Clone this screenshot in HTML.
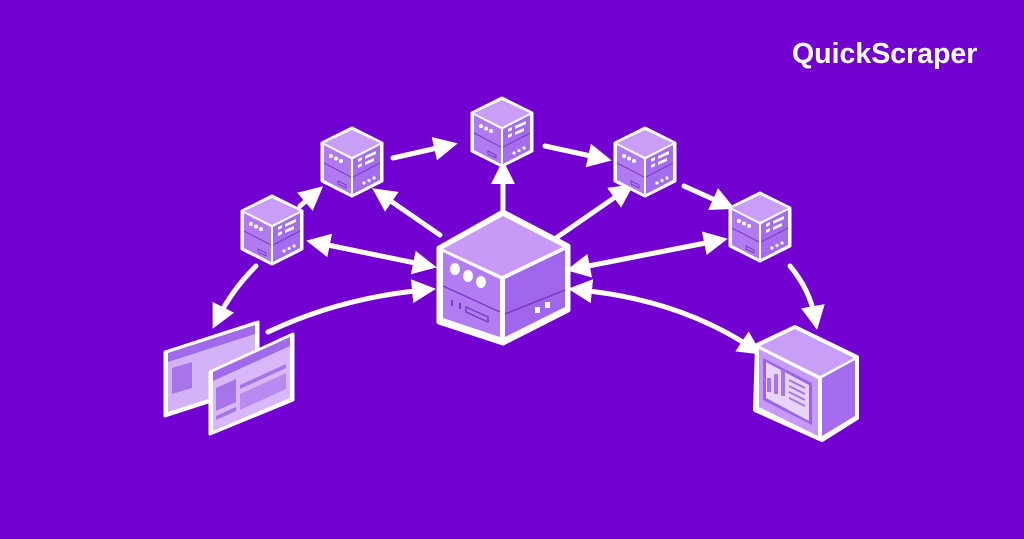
<!DOCTYPE html>
<html><head><meta charset="utf-8"><style>
html,body{margin:0;padding:0;background:#7200d0;}
svg{display:block}
</style></head><body>
<svg width="1024" height="539" viewBox="0 0 1024 539" xmlns="http://www.w3.org/2000/svg">
<defs>
<marker id="ah" viewBox="0 0 10 10" refX="5" refY="5" markerWidth="4.8" markerHeight="4.8" orient="auto-start-reverse">
<path d="M0,0 L10,5 L0,10 z" fill="#fff"/></marker>
<g id="cube">
<polygon points="0,-34 30,-19 30,19 0,34 -30,19 -30,-19" fill="#fff" stroke="#fff" stroke-width="3" stroke-linejoin="round"/>
<polygon points="0,-32 28,-19 0,-5 -28,-19" fill="#c99ef7"/>
<polygon points="-28,-17 -1,-3 -1,32 -28,18" fill="#b07af1"/>
<polygon points="1,-3 28,-17 28,18 1,32" fill="#a36ded"/>
<line x1="-28" y1="1" x2="-1" y2="15" stroke="#7a3cc9" stroke-width="1"/>
<line x1="1" y1="15" x2="28" y2="1" stroke="#7a3cc9" stroke-width="1"/>
<circle cx="-21" cy="-6" r="2" fill="#fff"/><circle cx="-16" cy="-3.5" r="2" fill="#fff"/><circle cx="-11" cy="-1" r="2" fill="#fff"/>
<polygon points="6,-3 10,-5 10,-2 6,0" fill="#fff"/><polygon points="13,-6 24,-11 24,-8 13,-3" fill="#fff"/>
<polygon points="6,3 10,1 10,4 6,6" fill="#fff"/><polygon points="13,0 22,-4 22,-1 13,3" fill="#fff"/>
<polygon points="-14,19 -6,23 -6,26 -14,22" fill="none" stroke="#7a3cc9" stroke-width="1"/>
<circle cx="12" cy="21" r="1.6" fill="#fff"/><circle cx="17" cy="18.5" r="1.6" fill="#fff"/><circle cx="22" cy="16" r="1.6" fill="#fff"/>
</g>
</defs>

<g stroke="#fff" stroke-width="5" fill="none" stroke-linecap="round">
<line x1="393" y1="158" x2="446" y2="146" marker-end="url(#ah)"/>
<line x1="545" y1="146" x2="600" y2="158" marker-end="url(#ah)"/>
<line x1="684" y1="186" x2="724" y2="204" marker-end="url(#ah)"/>
<line x1="300" y1="206" x2="314" y2="194" marker-end="url(#ah)"/>
<line x1="440" y1="235" x2="382" y2="195" marker-end="url(#ah)"/>
<line x1="503" y1="210" x2="503" y2="172" marker-end="url(#ah)"/>
<line x1="556" y1="238" x2="624" y2="191" marker-end="url(#ah)"/>
<line x1="318" y1="243" x2="425" y2="265" marker-start="url(#ah)" marker-end="url(#ah)"/>
<line x1="578" y1="268" x2="716" y2="241" marker-start="url(#ah)" marker-end="url(#ah)"/>
<path d="M256,266 Q232,290 218,318" marker-end="url(#ah)"/>
<path d="M268,332 Q340,298 424,290" marker-end="url(#ah)"/>
<path d="M580,290 Q680,300 752,348" marker-start="url(#ah)" marker-end="url(#ah)"/>
<path d="M790,266 Q810,290 815,318" marker-end="url(#ah)"/>
</g>

<use href="#cube" x="352" y="162"/>
<use href="#cube" x="502" y="132"/>
<use href="#cube" x="645" y="162"/>
<use href="#cube" x="272" y="230"/>
<use href="#cube" x="760" y="227"/>

<g>
<polygon points="503,212 568,246 568,310 503,343 439,322 439,248" fill="#fff" stroke="#fff" stroke-width="5" stroke-linejoin="round"/>
<polygon points="503,216 563,247 502,276 443,249" fill="#c79af7"/>
<polygon points="443,252 500,279 500,337 443,318" fill="#b27cf2"/>
<polygon points="505,279 565,250 565,307 505,337" fill="#a066ec"/>
<line x1="443" y1="286" x2="500" y2="312" stroke="#7a3cc9" stroke-width="1.5"/>
<line x1="505" y1="314" x2="565" y2="290" stroke="#7a3cc9" stroke-width="1.5"/>
<ellipse cx="455" cy="269" rx="5" ry="6" fill="#fff"/><ellipse cx="468" cy="276" rx="5" ry="6" fill="#fff"/><ellipse cx="481" cy="282" rx="5" ry="6" fill="#fff"/>
<polygon points="466,307 488,317 488,322 466,312" fill="none" stroke="#7a3cc9" stroke-width="1.5"/>
<rect x="451" y="300" width="2" height="6" fill="#7a3cc9"/><rect x="459" y="303" width="2" height="6" fill="#7a3cc9"/>
<rect x="535" y="307" width="5" height="6" fill="#fff"/><rect x="545" y="302" width="5" height="6" fill="#fff"/>
</g>

<g stroke-linejoin="round">
<polygon points="165,352 258,322 258,386 165,416" fill="#fff" stroke="#fff" stroke-width="3"/>
<polygon points="168,353 255,325 255,384 168,412" fill="#d4b2f8"/>
<polygon points="168,353 255,325 255,334 168,362" fill="#a16aea"/>
<polygon points="172,368 192,362 192,388 172,394" fill="#a774ec"/>
<polygon points="210,372 293,334 293,400 210,434" fill="#fff" stroke="#fff" stroke-width="3"/>
<polygon points="213,372 290,337 290,398 213,431" fill="#d8b8f9"/>
<polygon points="213,372 290,337 290,346 213,381" fill="#a16aea"/>
<polygon points="216,388 236,379 236,402 216,411" fill="#a774ec"/>
<polygon points="240,385 286,364 286,368 240,389" fill="#a774ec"/>
<polygon points="240,394 286,373 286,389 240,410" fill="#b98af0"/>
<polygon points="216,416 236,407 236,411 216,420" fill="#a774ec"/>
</g>

<g stroke-linejoin="round">
<polygon points="757,345 795,327 857,357 857,418 822,440 755,410" fill="#fff" stroke="#fff" stroke-width="4"/>
<polygon points="760,346 795,329 854,358 820,376" fill="#c99ef7"/>
<polygon points="759,349 818,379 818,436 759,407" fill="#c79af7"/>
<polygon points="822,378 855,360 855,416 822,436" fill="#a36ded"/>
<polygon points="763,358 812,383 812,425 763,400" fill="#9d62ea"/>
<polygon points="766,362 809,385 809,421 766,398" fill="#e6d4fb"/>
<rect x="767" y="378" width="4" height="14" fill="#a774ec"/><rect x="774" y="374" width="4" height="20" fill="#a774ec"/><rect x="781" y="370" width="4" height="26" fill="#a774ec"/>
<g stroke="#a774ec" stroke-width="2"><line x1="789" y1="380" x2="805" y2="388"/><line x1="789" y1="386" x2="805" y2="394"/><line x1="789" y1="392" x2="805" y2="400"/><line x1="789" y1="398" x2="805" y2="406"/></g>
</g>

<text x="792" y="63" font-family="Liberation Sans, sans-serif" font-weight="bold" font-size="28.5" fill="#fff">QuickScraper</text>
</svg>
</body></html>
